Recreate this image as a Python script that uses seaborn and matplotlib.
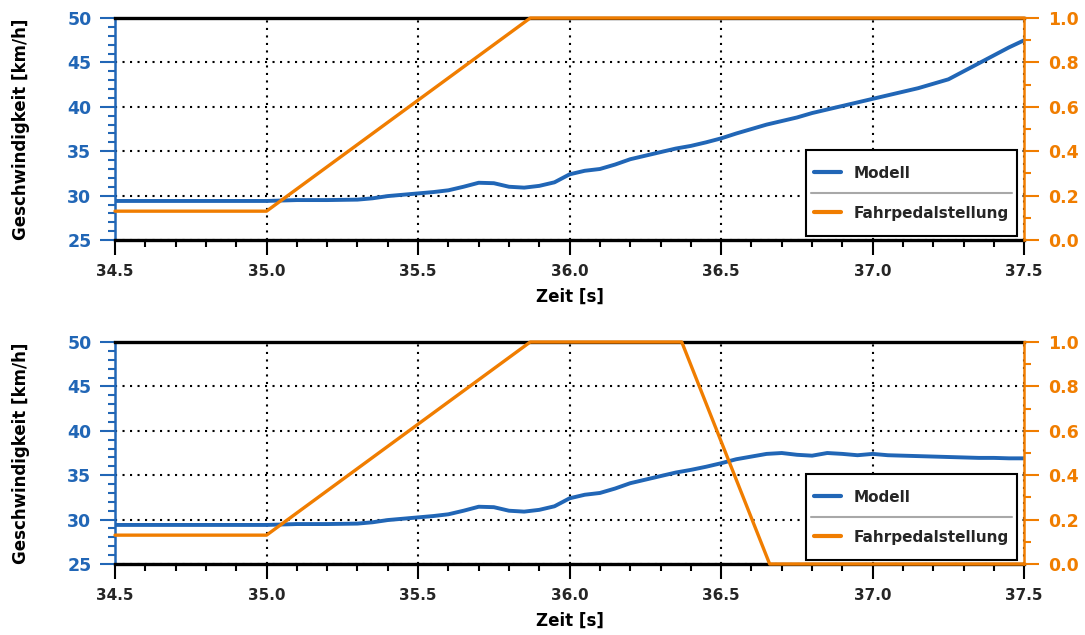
import matplotlib
matplotlib.use("Agg")
import matplotlib.pyplot as plt
from matplotlib.ticker import MultipleLocator, FormatStrFormatter
from matplotlib.lines import Line2D
from matplotlib.legend_handler import HandlerLine2D
import numpy as np
import pandas as pd
import seaborn as sns

# Zeitachse der Geschwindigkeitsmessung [s]
zeit = [34.5, 35.0, 35.1, 35.2, 35.3, 35.35, 35.4, 35.45, 35.5, 35.55, 35.6, 35.65,
        35.7, 35.75, 35.8, 35.85, 35.9, 35.95, 36.0, 36.05, 36.1, 36.15, 36.2, 36.25,
        36.3, 36.35, 36.4, 36.45, 36.5, 36.55, 36.6, 36.65, 36.7, 36.75, 36.8, 36.85,
        36.9, 36.95, 37.0, 37.05, 37.1, 37.15, 37.2, 37.25, 37.3, 37.35, 37.4, 37.45, 37.5]

# Modellgeschwindigkeit [km/h], Fahrpedal bleibt durchgetreten
geschw_oben = [29.4, 29.4, 29.5, 29.5, 29.55, 29.7, 29.95, 30.1, 30.25, 30.4, 30.6, 31.0,
               31.45, 31.4, 31.0, 30.9, 31.1, 31.5, 32.4, 32.8, 33.0, 33.5, 34.1, 34.5,
               34.9, 35.3, 35.6, 36.0, 36.45, 37.0, 37.5, 38.0, 38.4, 38.8, 39.3, 39.7,
               40.1, 40.5, 40.9, 41.3, 41.7, 42.1, 42.6, 43.1, 44.0, 44.9, 45.8, 46.7, 47.5]

# Modellgeschwindigkeit [km/h], Fahrpedal wird wieder losgelassen
geschw_unten = [29.4, 29.4, 29.5, 29.5, 29.55, 29.7, 29.95, 30.1, 30.25, 30.4, 30.6, 31.0,
                31.45, 31.4, 31.0, 30.9, 31.1, 31.5, 32.4, 32.8, 33.0, 33.5, 34.1, 34.5,
                34.9, 35.3, 35.6, 35.95, 36.35, 36.8, 37.1, 37.4, 37.5, 37.3, 37.2, 37.5,
                37.4, 37.25, 37.4, 37.25, 37.2, 37.15, 37.1, 37.05, 37.0, 36.95, 36.95, 36.9, 36.9]

# Fahrpedalstellung (0 ... 1)
pedal_zeit_oben = [34.5, 35.0, 35.87, 37.5]
pedal_oben = [0.13, 0.13, 1.0, 1.0]
pedal_zeit_unten = [34.5, 35.0, 35.87, 36.37, 36.66, 37.5]
pedal_unten = [0.13, 0.13, 1.0, 1.0, 0.0, 0.0]

BLAU = "#2166b6"
ORANGE = "#f07d00"


class MittigeLinie(HandlerLine2D):
    """Legendenlinie auf Höhe der Textmitte statt der Boxmitte."""

    def create_artists(self, legend, orig_handle, xdescent, ydescent,
                       width, height, fontsize, trans):
        artists = super().create_artists(legend, orig_handle, xdescent, ydescent,
                                         width, height, fontsize, trans)
        for a in artists:
            a.set_ydata(np.full_like(np.asarray(a.get_xdata(), dtype=float),
                                     0.37 * fontsize))
        return artists


sns.set_theme(style="white")
plt.rcParams["font.family"] = ["DejaVu Sans"]
plt.rcParams["font.weight"] = "bold"

fig = plt.figure(figsize=(10.85, 6.35), dpi=100)

panels = [
    ([0.106, 0.622, 0.838, 0.3496], geschw_oben, pedal_zeit_oben, pedal_oben),
    ([0.106, 0.1118, 0.838, 0.3496], geschw_unten, pedal_zeit_unten, pedal_unten),
]

legenden = []
for rect, geschw, p_zeit, pedal in panels:
    ax = fig.add_axes(rect)
    ax2 = ax.twinx()

    df_v = pd.DataFrame({"Zeit": zeit, "v": geschw})
    df_p = pd.DataFrame({"Zeit": p_zeit, "p": pedal})

    sns.lineplot(data=df_v, x="Zeit", y="v", ax=ax, color=BLAU, lw=2.8,
                 legend=False, zorder=3)
    sns.lineplot(data=df_p, x="Zeit", y="p", ax=ax2, color=ORANGE, lw=2.4,
                 legend=False, clip_on=False, zorder=3)

    ax.set_xlim(34.5, 37.5)
    ax.set_ylim(25, 50)
    ax2.set_ylim(0, 1)

    ax.xaxis.set_major_locator(MultipleLocator(0.5))
    ax.xaxis.set_minor_locator(MultipleLocator(0.1))
    ax.xaxis.set_major_formatter(FormatStrFormatter("%.1f"))
    ax.yaxis.set_major_locator(MultipleLocator(5))
    ax.yaxis.set_minor_locator(MultipleLocator(1))
    ax2.yaxis.set_major_locator(MultipleLocator(0.2))
    ax2.yaxis.set_minor_locator(MultipleLocator(0.1))
    ax2.yaxis.set_major_formatter(FormatStrFormatter("%.1f"))

    ax.grid(True, which="major", color="black", linestyle=(0, (1, 2.6)), lw=1.5)

    # Achsenlinien
    for s in ("top", "bottom"):
        ax.spines[s].set_color("black")
        ax.spines[s].set_linewidth(2.4)
    ax.spines["left"].set_color(BLAU)
    ax.spines["left"].set_linewidth(1.8)
    ax.spines["right"].set_visible(False)
    for s in ("top", "bottom", "left"):
        ax2.spines[s].set_visible(False)
    ax2.spines["right"].set_color(ORANGE)
    ax2.spines["right"].set_linewidth(1.8)

    ax.tick_params(axis="x", which="both", direction="out", bottom=True,
                   color="black", width=1.5, labelsize=11, pad=6)
    ax.tick_params(axis="x", which="major", length=11)
    ax.tick_params(axis="x", which="minor", length=5)
    ax.tick_params(axis="y", which="both", direction="out", left=True,
                   color=BLAU, width=1.5, labelcolor=BLAU, labelsize=12.5, pad=6)
    ax.tick_params(axis="y", which="major", length=11)
    ax.tick_params(axis="y", which="minor", length=5)
    ax2.tick_params(axis="y", which="both", direction="out", right=True,
                    color=ORANGE, width=1.5, labelcolor=ORANGE, labelsize=12.5, pad=6)
    ax2.tick_params(axis="y", which="major", length=11)
    ax2.tick_params(axis="y", which="minor", length=5)
    for lab in ax.get_xticklabels() + ax.get_yticklabels() + ax2.get_yticklabels():
        lab.set_fontweight("bold")

    ax.set_xlabel("Zeit [s]", fontsize=12, fontweight="bold", color="black")
    ax.xaxis.set_label_coords(0.5, -0.215)
    ax.set_ylabel("Geschwindigkeit [km/h]", fontsize=12, fontweight="bold", color="black")
    ax.yaxis.set_label_coords(-0.094, 0.5)
    ax2.set_ylabel("")

    handles = [Line2D([], [], color=BLAU, lw=3), Line2D([], [], color=ORANGE, lw=3)]
    leg = ax2.legend(handles, ["Modell", "Fahrpedalstellung"], loc="lower right",
                     bbox_to_anchor=(0.992, 0.018), borderaxespad=0, frameon=True,
                     fancybox=False, edgecolor="black", framealpha=1,
                     prop={"weight": "bold", "size": 11}, handlelength=1.8,
                     handleheight=2.7, handletextpad=0.85, labelspacing=0.6,
                     borderpad=0.5, handler_map={Line2D: MittigeLinie()})
    leg.get_frame().set_linewidth(1.5)
    leg.set_zorder(10)
    legenden.append(leg)

# graue Trennlinie zwischen den Legendeneinträgen
fig.canvas.draw()
inv = fig.transFigure.inverted()
for leg in legenden:
    rahmen = leg.get_frame().get_window_extent()
    t0, t1 = [t.get_window_extent() for t in leg.get_texts()]
    y_mitte = 0.5 * ((t0.y0 + t0.y1) / 2 + (t1.y0 + t1.y1) / 2)
    (xa, ya), (xb, _) = inv.transform([(rahmen.x0 + 5, y_mitte), (rahmen.x1 - 5, y_mitte)])
    fig.add_artist(Line2D([xa, xb], [ya, ya], color="#a8a8a8", lw=1.5,
                          transform=fig.transFigure, zorder=20))

fig.savefig("out.png", dpi=100)
